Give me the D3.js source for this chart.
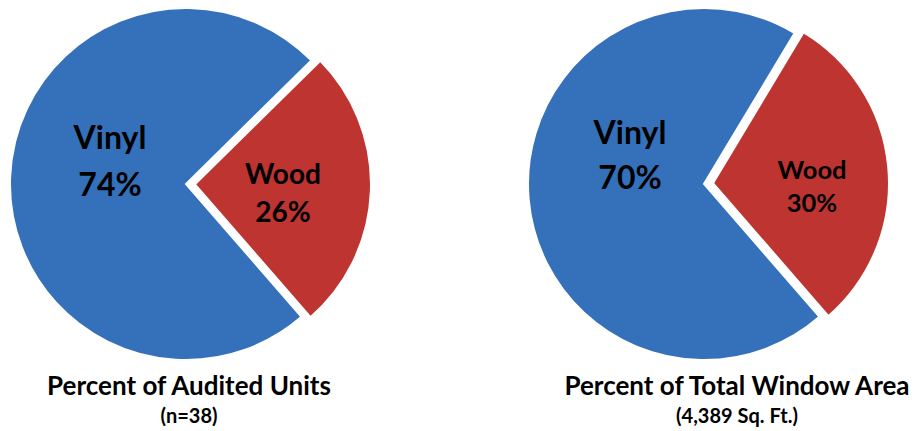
<!DOCTYPE html>
<html><head><meta charset="utf-8">
<script src="https://cdn.jsdelivr.net/npm/d3@7"></script>
<style>html,body{margin:0;padding:0;background:#fff;}svg{display:block;}</style>
</head><body>
<svg id="c" width="914" height="431"></svg>
<script>
const categories = ["Vinyl", "Wood"];
const unitsValues = [74, 26];
const areaValues = [70, 30];
const titles = ["Percent of Audited Units", "Percent of Total Window Area"];
const subtitles = ["(n=38)", "(4,389 Sq. Ft.)"];
const colors = ["#3571BA", "#BE3430"];

const svg = d3.select("#c");
const font = "Lato, 'Open Sans', sans-serif";
const color = d3.scaleOrdinal().domain(categories).range(colors);

const charts = [
  {values: unitsValues, cx: 186, cy: 184, r: 176, title: titles[0], sub: subtitles[0], tx: 189,
   labels: [{dx: -76, dy: -35, lh: 47, size: 32}, {dx: 97, dy: 0, lh: 38, size: 28}]},
  {values: areaValues, cx: 704, cy: 184, r: 176, title: titles[1], sub: subtitles[1], tx: 737,
   labels: [{dx: -74, dy: -40, lh: 45, size: 32}, {dx: 108, dy: -5, lh: 33, size: 25.5}]}
];

const pie = d3.pie().sort(null).value(d => d.v)
  .startAngle(139 * Math.PI / 180).endAngle(139 * Math.PI / 180 + 2 * Math.PI);
const arc = d3.arc().innerRadius(0);

charts.forEach(ch => {
  const data = categories.map((c, i) => ({c, v: ch.values[i]}));
  const arcs = pie(data);
  const g = svg.append("g").attr("transform", `translate(${ch.cx},${ch.cy})`);
  g.selectAll("path").data(arcs).join("path")
    .attr("d", d => arc.outerRadius(ch.r)(d))
    .attr("transform", d => {
      if (d.data.c !== "Wood") return null;
      const m = (d.startAngle + d.endAngle) / 2;
      const off = 9;
      return `translate(${off * Math.sin(m)},${-off * Math.cos(m)})`;
    })
    .attr("fill", d => color(d.data.c))
    .attr("stroke", "#fff").attr("stroke-width", 2).attr("stroke-linejoin", "miter");

  arcs.forEach((d, i) => {
    const L = ch.labels[i];
    const t = g.append("text").attr("text-anchor", "middle")
      .attr("font-family", font).attr("font-weight", "bold")
      .attr("font-size", L.size).attr("fill", "#000");
    t.append("tspan").attr("x", L.dx).attr("y", L.dy).text(d.data.c);
    t.append("tspan").attr("x", L.dx).attr("y", L.dy + L.lh).text(d.data.v + "%");
  });

  svg.append("text").attr("x", ch.tx).attr("y", 395).attr("text-anchor", "middle")
    .attr("font-family", font).attr("font-weight", "bold").attr("font-size", 26)
    .text(ch.title);
  svg.append("text").attr("x", ch.tx).attr("y", 423).attr("text-anchor", "middle")
    .attr("font-family", font).attr("font-weight", "bold").attr("font-size", 20)
    .text(ch.sub);
});
</script>
</body></html>
